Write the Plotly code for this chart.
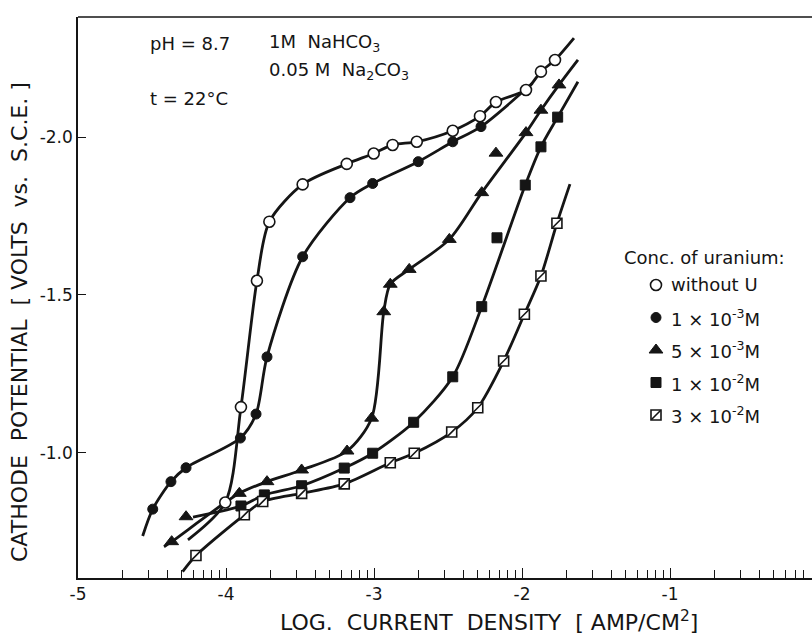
import math
import plotly.graph_objects as go

# ---------------- data (log current density, cathode potential V vs SCE) -------------
# without U (open circles)
x_none = [-4.005, -3.899, -3.791, -3.707, -3.482, -3.184, -3.002, -2.874, -2.711,
          -2.468, -2.284, -2.176, -1.973, -1.872, -1.777]
v_none = [-0.843, -1.145, -1.545, -1.732, -1.850, -1.915, -1.948, -1.975, -1.985,
          -2.020, -2.066, -2.111, -2.149, -2.207, -2.244]
ends_none = [(-4.257, -0.725), (-1.649, -2.313)]

# 1e-3 M (filled circles)
x_1e3 = [-4.495, -4.372, -4.270, -3.903, -3.797, -3.723, -3.482, -3.162, -3.009,
         -2.701, -2.468, -2.277]
v_1e3 = [-0.822, -0.909, -0.953, -1.047, -1.123, -1.304, -1.621, -1.808, -1.853,
         -1.922, -1.985, -2.033]
ends_1e3 = [(-4.563, -0.737), (-1.930, -2.170)]

# 5e-3 M (triangles)
x_5e3 = [-4.367, -4.270, -3.910, -3.723, -3.489, -3.182, -3.016, -2.934, -2.890,
         -2.762, -2.491, -2.272, -2.176, -1.973, -1.872, -1.750]
v_5e3 = [-0.719, -0.798, -0.872, -0.909, -0.946, -1.006, -1.110, -1.447, -1.534,
         -1.581, -1.676, -1.824, -1.949, -2.014, -2.085, -2.165]
off_5e3 = [1, 12]          # points lying off the drawn curve
ends_5e3 = [(-4.419, -0.703), (-1.622, -2.244)]

# 1e-2 M (filled squares)
x_1e2 = [-3.899, -3.741, -3.489, -3.201, -3.009, -2.732, -2.468, -2.272, -2.169,
         -1.978, -1.872, -1.759]
v_1e2 = [-0.832, -0.867, -0.896, -0.952, -0.999, -1.097, -1.241, -1.463, -1.681,
         -1.848, -1.969, -2.063]
off_1e2 = [8]
ends_1e2 = [(-4.223, -0.797), (-1.622, -2.175)]

# 3e-2 M (hatched squares)
x_3e2 = [-4.203, -3.876, -3.752, -3.489, -3.201, -2.890, -2.728, -2.475, -2.299,
         -2.124, -1.984, -1.872, -1.764]
v_3e2 = [-0.675, -0.804, -0.846, -0.872, -0.902, -0.969, -0.999, -1.066, -1.143,
         -1.291, -1.439, -1.560, -1.727]
ends_3e2 = [(-4.293, -0.624), (-1.676, -1.851)]

x_ticks = [-5, -4, -3, -2, -1]
x_ticktext = ["-5", "-4", "-3", "-2", "-1"]
y_ticks = [-2.0, -1.5, -1.0]
y_ticktext = ["-2.0", "-1.5", "-1.0"]

legend_labels = ["without U", "1 × 10<sup>-3</sup>M", "5 × 10<sup>-3</sup>M",
                 "1 × 10<sup>-2</sup>M", "3 × 10<sup>-2</sup>M"]

# ---------------- layout geometry ----------------
W, H = 812, 636
ML, MR, MT, MB = 78, 0, 17, 58
PW, PH = W - ML - MR, H - MT - MB
FONT = "DejaVu Sans"
INK = "#151515"


def paper(px, py):
    return (px - ML) / PW, (H - MB - py) / PH


def curve(xs, vs, ends, off=()):
    cx = [ends[0][0]] + [x for i, x in enumerate(xs) if i not in off] + [ends[1][0]]
    cv = [ends[0][1]] + [v for i, v in enumerate(vs) if i not in off] + [ends[1][1]]
    return cx, cv


fig = go.Figure()

series = [
    (x_none, v_none, ends_none, (), dict(symbol="circle", size=11, color="white",
                                          line=dict(color=INK, width=1.6))),
    (x_1e3, v_1e3, ends_1e3, (), dict(symbol="circle", size=10, color=INK,
                                       line=dict(color=INK, width=1))),
    (x_5e3, v_5e3, ends_5e3, off_5e3, dict(symbol="triangle-up", size=12, color=INK,
                                             line=dict(color=INK, width=1))),
    (x_1e2, v_1e2, ends_1e2, off_1e2, dict(symbol="square", size=10, color=INK,
                                             line=dict(color=INK, width=1))),
    (x_3e2, v_3e2, ends_3e2, (), dict(symbol="square", size=10, color="white",
                                       line=dict(color=INK, width=1.6))),
]

for xs, vs, ends, off, mk in series:
    cx, cv = curve(xs, vs, ends, off)
    fig.add_trace(go.Scatter(x=cx, y=cv, mode="lines", showlegend=False,
                             line=dict(color=INK, width=2.8, shape="spline", smoothing=0.8),
                             hoverinfo="skip"))
for xs, vs, ends, off, mk in series:
    fig.add_trace(go.Scatter(x=xs, y=vs, mode="markers", showlegend=False, marker=mk))
# hatch stroke inside the 3e-2 squares
fig.add_trace(go.Scatter(x=x_3e2, y=v_3e2, mode="markers", showlegend=False,
                         marker=dict(symbol="line-ne", size=9,
                                     line=dict(color=INK, width=1.6))))

# ---------------- manual legend (overlay axes in paper units) ----------------
LEG_MX, LEG_TX, LEG_Y0, LEG_DY = 656, 669, 285, 32.5
leg_syms = [s[4] for s in series]
for i, mk in enumerate(leg_syms):
    lx, ly = paper(LEG_MX, LEG_Y0 + i * LEG_DY)
    fig.add_trace(go.Scatter(x=[lx], y=[ly], xaxis="x2", yaxis="y2", mode="markers",
                             marker=mk, showlegend=False, hoverinfo="skip"))
lx, ly = paper(LEG_MX, LEG_Y0 + 4 * LEG_DY)
fig.add_trace(go.Scatter(x=[lx], y=[ly], xaxis="x2", yaxis="y2", mode="markers",
                         marker=dict(symbol="line-ne", size=9, line=dict(color=INK, width=1.6)),
                         showlegend=False, hoverinfo="skip"))

annotations = []
tx, ty = paper(622, 257)
annotations.append(dict(x=tx, y=ty, text="Conc. of uranium:", xanchor="left",
                        yanchor="middle", font=dict(size=18)))
for i, lab in enumerate(legend_labels):
    tx, ty = paper(LEG_TX, LEG_Y0 + i * LEG_DY)
    annotations.append(dict(x=tx, y=ty, text=lab, xanchor="left", yanchor="middle",
                            font=dict(size=18)))

# condition texts
for (px, py, txt) in [(148, 43, "pH = 8.7"),
                      (267, 43, "1M  NaHCO<sub>3</sub>"),
                      (267, 71, "0.05 M  Na<sub>2</sub>CO<sub>3</sub>"),
                      (148, 98, "t = 22°C")]:
    ax_, ay_ = paper(px, py)
    annotations.append(dict(x=ax_, y=ay_, text=txt, xanchor="left", yanchor="middle",
                            font=dict(size=18)))

# axis titles
ax_, ay_ = paper(489, 621)
annotations.append(dict(x=ax_, y=ay_, text="LOG.  CURRENT  DENSITY  [ AMP/CM<sup>2</sup>]",
                        xanchor="center", yanchor="middle", font=dict(size=22)))
ax_, ay_ = paper(19, 322)
annotations.append(dict(x=ax_, y=ay_, text="CATHODE  POTENTIAL  [ VOLTS  vs.  S.C.E. ]",
                        textangle=-90, xanchor="center", yanchor="middle",
                        font=dict(size=22)))

for a in annotations:
    a.update(xref="paper", yref="paper", showarrow=False)
    a["font"].update(family=FONT, color=INK)

minor_vals = []
for d in range(-5, 0):
    for k in range(2, 10):
        minor_vals.append(d + math.log10(k))

fig.update_layout(
    width=W, height=H,
    margin=dict(l=ML, r=MR, t=MT, b=MB),
    paper_bgcolor="white", plot_bgcolor="white",
    font=dict(family=FONT, color=INK, size=17),
    annotations=annotations,
    showlegend=False,
    xaxis=dict(range=[-5, -5 + PW / 148.0], tickmode="array", tickvals=x_ticks,
               ticktext=x_ticktext, ticks="inside", ticklen=10, tickwidth=1.4,
               tickcolor=INK, showline=True, linecolor=INK, linewidth=1.6,
               showgrid=False, zeroline=False, tickfont=dict(size=17),
               minor=dict(tickmode="array", tickvals=minor_vals, ticks="inside",
                          ticklen=8, tickwidth=1.2, tickcolor=INK, showgrid=False)),
    yaxis=dict(range=[-0.604, -2.380], tickmode="array", tickvals=y_ticks,
               ticktext=y_ticktext, ticks="inside", ticklen=8, tickwidth=1.4,
               tickcolor=INK, showline=True, linecolor=INK, linewidth=1.6,
               showgrid=False, zeroline=False, tickfont=dict(size=17)),
    xaxis2=dict(overlaying="x", range=[0, 1], visible=False, fixedrange=True),
    yaxis2=dict(overlaying="y", range=[0, 1], visible=False, fixedrange=True),
    shapes=[dict(type="line", xref="paper", yref="paper", x0=0, x1=1, y0=1, y1=1,
                 line=dict(color=INK, width=1.6))],
)

fig.write_html("out.html",
               config={"displayModeBar": False},
               post_script="document.body.style.margin='0px';"
                           "document.body.style.overflow='hidden';")
